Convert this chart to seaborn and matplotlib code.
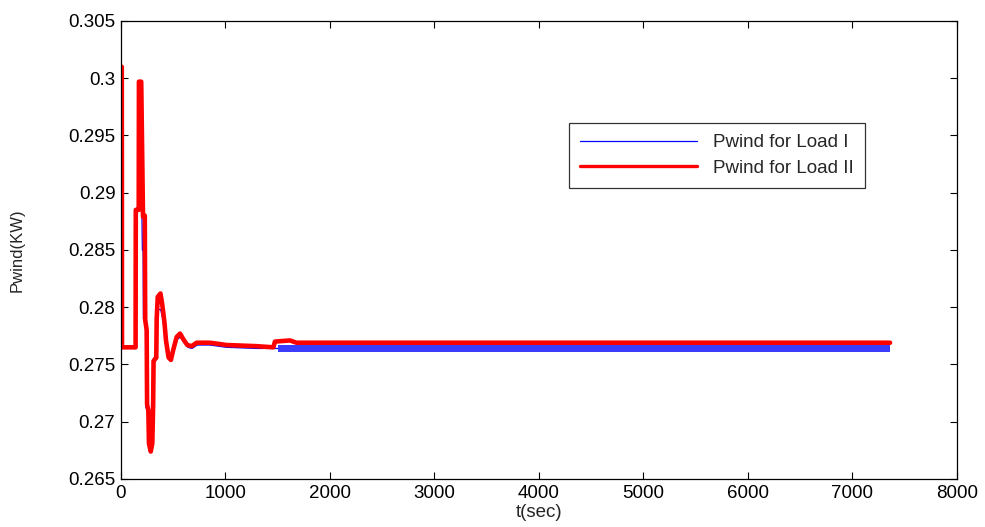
import seaborn as sns
import pandas as pd, numpy as np
import matplotlib.pyplot as plt
from matplotlib.ticker import FormatStrFormatter, MultipleLocator

# Pwind for Load II (red)
t_red = [0, 0, 8, 10, 140, 142, 170, 172, 194, 198, 211, 220, 228, 232, 246, 250, 262, 268, 285,
         300, 308, 312, 338, 342, 352, 378, 394, 416, 431, 456, 478, 501, 533, 565, 597, 635,
         677, 724, 852, 1011, 1298, 1458, 1474, 1617, 1680, 7360]
p_red = [0.2765, 0.3010, 0.3010, 0.2765, 0.2765, 0.2885, 0.2885, 0.2997, 0.2997, 0.2969, 0.2879, 0.2879,
         0.2880, 0.2789, 0.2780, 0.2715, 0.2710, 0.2681, 0.2674,
         0.2681, 0.2715, 0.2753, 0.2756, 0.2790, 0.2809, 0.2812, 0.2803, 0.2787, 0.2771, 0.2756, 0.2754,
         0.2763, 0.2774, 0.2777, 0.2772, 0.2767,
         0.2766, 0.2769, 0.2769, 0.2767, 0.2766, 0.2765, 0.2770, 0.2771, 0.2769, 0.2769]

# Pwind for Load I (blue)
t_blue = [0, 0, 8, 10, 140, 142, 200, 205, 212, 215, 235, 240, 265, 270, 290, 300, 310, 335, 340,
          355, 380, 400, 430, 460, 480, 510, 540, 570, 600, 640, 680, 730, 850, 1010, 1300, 1500]
p_blue = [0.2765, 0.3010, 0.3010, 0.2765, 0.2765, 0.2885, 0.2885, 0.2850, 0.2850, 0.2790, 0.2785,
          0.2712, 0.2712, 0.2705, 0.2705, 0.2730, 0.2755, 0.2758, 0.2788,
          0.2798, 0.2798, 0.2790, 0.2770, 0.2757, 0.2758, 0.2764, 0.2772, 0.2774, 0.2770, 0.2765,
          0.2764, 0.2767, 0.2767, 0.2765, 0.2764, 0.2764]
# fast ripple of the blue curve after t=1500 (envelope)
t_ripple = [1500, 7360]
ripple_lo = [0.2761, 0.2761]
ripple_hi = [0.2767, 0.2767]

df_red = pd.DataFrame({"t": t_red, "P": p_red})
df_blue = pd.DataFrame({"t": t_blue, "P": p_blue})

sns.set_style("ticks")
plt.rcParams["font.family"] = ["Liberation Sans", "DejaVu Sans"]

fig = plt.figure(figsize=(9.85, 5.27), dpi=100)
ax = fig.add_axes([0.1228, 0.0911, 0.8487, 0.8691])

sns.lineplot(data=df_blue, x="t", y="P", sort=False, estimator=None, color="#0000ff",
             lw=0.9, ax=ax, label="Pwind for Load I")
ax.fill_between(t_ripple, ripple_lo, ripple_hi, color="#1a1aff", alpha=0.85, lw=0)
sns.lineplot(data=df_red, x="t", y="P", sort=False, estimator=None, color="#ff0000",
             lw=3.3, ax=ax, label="Pwind for Load II")

ax.set_xlim(0, 8000)
ax.set_ylim(0.265, 0.305)
ax.xaxis.set_major_locator(MultipleLocator(1000))
ax.yaxis.set_major_locator(MultipleLocator(0.005))
ax.yaxis.set_major_formatter(FormatStrFormatter("%g"))
ax.tick_params(direction="in", length=5, width=0.8, top=True, right=True,
               labelsize=13.5, colors="black", pad=4)
for s in ax.spines.values():
    s.set_color("black")
    s.set_linewidth(0.9)

ax.set_xlabel("t(sec)", fontsize=13.5, labelpad=2)
ax.set_ylabel("Pwind(KW)", fontsize=12)
ax.yaxis.set_label_coords(-0.115, 0.5)

leg = ax.legend(loc="upper left", bbox_to_anchor=(0.536, 0.777), fontsize=13.5, frameon=True,
                fancybox=False, edgecolor="black", handlelength=6.2, borderpad=0.6,
                labelspacing=0.45, handletextpad=0.9, borderaxespad=0)
leg.get_frame().set_linewidth(0.9)
leg.get_lines()[1].set_linewidth(2.4)

fig.savefig("out.png", dpi=100)
